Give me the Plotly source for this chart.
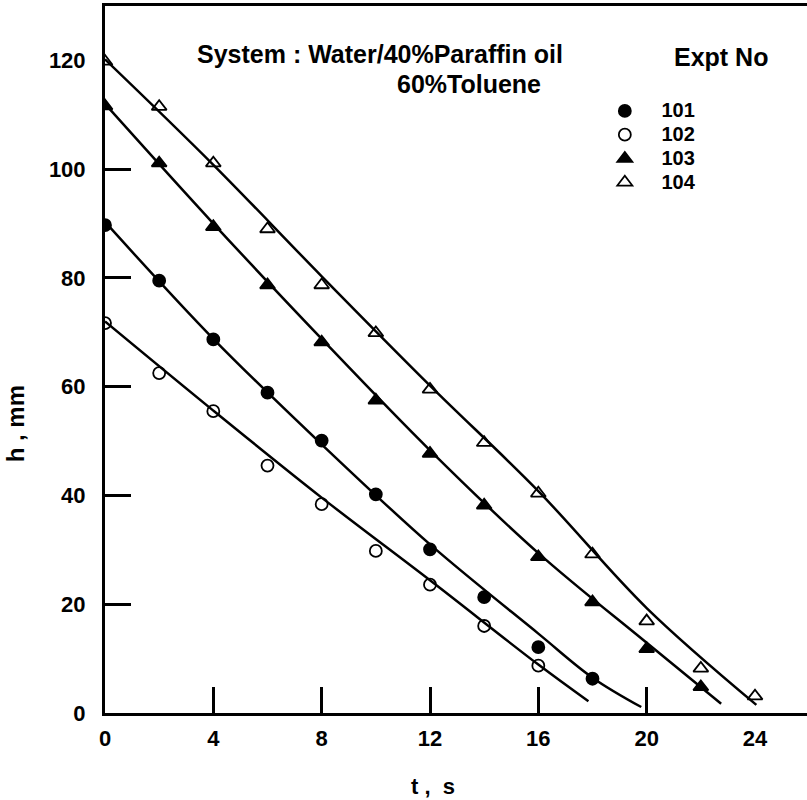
import plotly.graph_objects as go

# ---- data ----
t_points = [0, 2, 4, 6, 8, 10, 12, 14, 16, 18, 20, 22, 24]

h101 = [89.7, 79.5, 68.7, 58.9, 50.1, 40.2, 30.1, 21.3, 12.1, 6.3]
h102 = [71.7, 62.5, 55.5, 45.5, 38.4, 29.8, 23.6, 16.0, 8.7]
h103 = [111.6, 101.1, 89.4, 78.7, 68.2, 57.5, 47.7, 38.2, 28.7, 20.4, 11.8, 4.8]
h104 = [119.8, 111.5, 101.1, 89.0, 78.7, 69.9, 59.5, 49.7, 40.4, 29.2, 16.9, 8.2, 3.1]

# fitted curves
fit101_t = [0, 4, 8, 12, 16, 18, 19.8]
fit101_h = [90.3, 68.8, 49.4, 31.0, 14.6, 6.5, 1.1]
fit102_t = [0, 4, 8, 12, 16, 17.85]
fit102_h = [72.0, 55.6, 39.6, 24.4, 8.9, 2.15]
fit103_t = [0, 4, 8, 12, 16, 20, 22.75]
fit103_h = [112.0, 90.0, 68.8, 48.3, 29.4, 12.9, 1.7]
fit104_t = [0, 4, 8, 12, 16, 20, 24.05]
fit104_h = [120.2, 100.8, 80.3, 60.2, 40.8, 19.3, 1.5]

expt_names = ["101", "102", "103", "104"]
x_ticklabels = [0, 4, 8, 12, 16, 20, 24]
x_tickmarks = [4, 8, 12, 16, 20]
y_ticklabels = [0, 20, 40, 60, 80, 100, 120]
y_tickmarks = [20, 40, 60, 80, 100]

FONT = "Liberation Sans, Arial, Helvetica, sans-serif"

series = [
    (h101, fit101_t, fit101_h, "circle", 12),
    (h102, fit102_t, fit102_h, "circle-open", 12),
    (h103, fit103_t, fit103_h, "triangle-up", 13),
    (h104, fit104_t, fit104_h, "triangle-up-open", 13),
]

fig = go.Figure()

for name, (hv, ft, fh, sym, sz) in zip(expt_names, series):
    fig.add_trace(go.Scatter(
        x=ft, y=fh, mode="lines", line=dict(color="black", width=2.5, shape="spline"),
        showlegend=False, hoverinfo="skip", xaxis="x2", yaxis="y2"))

for name, (hv, ft, fh, sym, sz) in zip(expt_names, series):
    fig.add_trace(go.Scatter(
        x=t_points[:len(hv)], y=hv, mode="markers",
        marker=dict(symbol=sym, size=sz, color="black",
                    line=dict(color="black", width=1.8)),
        name='<span style="font-size:20px">\u00a0\u00a0\u00a0' + name + '</span>'))

axis_font = dict(family=FONT, size=22, color="black", weight="bold")

fig.update_layout(
    width=807, height=800,
    margin=dict(l=105, r=0, t=6, b=87),
    paper_bgcolor="white", plot_bgcolor="white",
    font=dict(family=FONT, color="black"),
    xaxis=dict(range=[0, 25.92], showline=True, linewidth=3, linecolor="black",
               mirror=True, ticks="", tickmode="array", tickvals=x_ticklabels,
               tickfont=axis_font, ticklabelstandoff=4,
               showgrid=False, zeroline=False),
    yaxis=dict(range=[0, 130], showline=True, linewidth=3, linecolor="black",
               ticks="", tickmode="array", tickvals=y_ticklabels,
               tickfont=axis_font, ticklabelstandoff=12,
               showgrid=False, zeroline=False),
    xaxis2=dict(overlaying="x", matches="x", anchor="y2", side="bottom",
                range=[0, 25.92], tickmode="array", tickvals=x_tickmarks,
                ticks="inside", ticklen=26, tickwidth=2.5, tickcolor="black",
                showticklabels=False, showline=False, showgrid=False, zeroline=False),
    yaxis2=dict(overlaying="y", matches="y", anchor="x2", side="left",
                range=[0, 130], tickmode="array", tickvals=y_tickmarks,
                ticks="inside", ticklen=26, tickwidth=2.5, tickcolor="black",
                showticklabels=False, showline=False, showgrid=False, zeroline=False),
    legend=dict(x=0.712, y=0.8755, xanchor="left", yanchor="top",
                bgcolor="rgba(0,0,0,0)", borderwidth=0,
                font=dict(family=FONT, size=16, color="black", weight="bold"),
                itemsizing="trace"),
    showlegend=True,
)

ann_font = dict(family=FONT, size=25, color="black", weight="bold")
fig.add_annotation(text="System\u00a0:\u00a0Water/40%Paraffin oil", xref="paper", yref="paper",
                   x=0.1282, y=0.932, xanchor="left", yanchor="middle",
                   showarrow=False, font=ann_font)
fig.add_annotation(text="60%Toluene", xref="paper", yref="paper",
                   x=0.413, y=0.8895, xanchor="left", yanchor="middle",
                   showarrow=False, font=ann_font)
fig.add_annotation(text="Expt No", xref="paper", yref="paper",
                   x=0.808, y=0.928, xanchor="left", yanchor="middle",
                   showarrow=False, font=ann_font)
fig.add_annotation(text="t\u00a0,\u00a0\u00a0s", xref="paper", yref="paper",
                   x=0.467, y=-0.1035, xanchor="center", yanchor="middle",
                   showarrow=False, font=dict(family=FONT, size=22, color="black", weight="bold"))
fig.add_annotation(text="h\u00a0,\u00a0mm", xref="paper", yref="paper",
                   x=-0.128, y=0.4085, xanchor="center", yanchor="middle", textangle=-90,
                   showarrow=False, font=dict(family=FONT, size=24, color="black", weight="bold"))

fig.write_html("out.html", config={"displayModeBar": False},
               post_script="document.body.style.margin='0';document.body.style.overflow='hidden';")
